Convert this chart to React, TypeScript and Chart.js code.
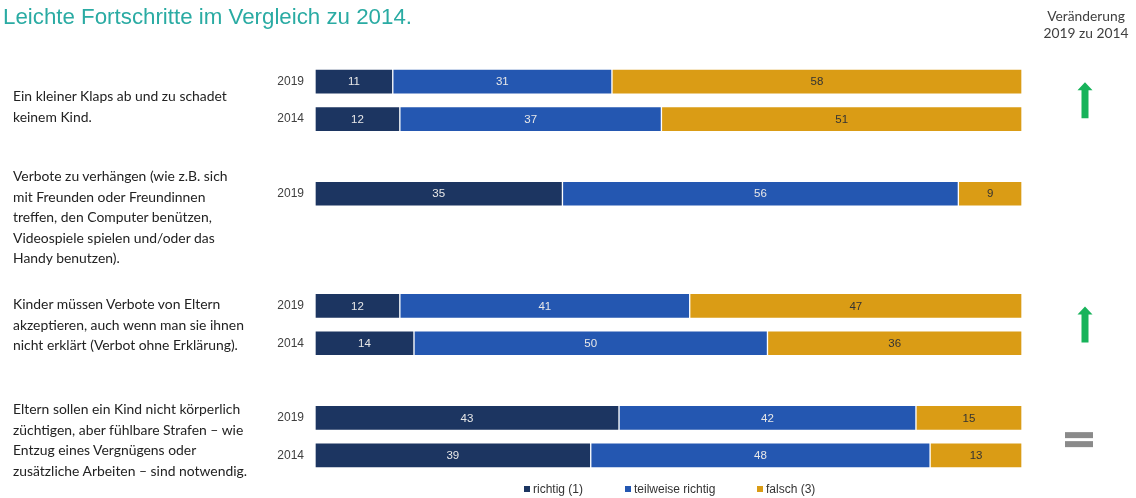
import React, { useEffect, useRef } from "react";
import { Chart, registerables } from "chart.js";

Chart.register(...registerables);

const title = "Leichte Fortschritte im Vergleich zu 2014.";
const changeHeader = ["Veränderung", "2019 zu 2014"];
const categories = ["2019", "2014", "", "2019", "", "", "2019", "2014", "", "2019", "2014"];
const richtig = [11, 12, null, 35, null, null, 12, 14, null, 43, 39];
const teilweise = [31, 37, null, 56, null, null, 41, 50, null, 42, 48];
const falsch = [58, 51, null, 9, null, null, 47, 36, null, 15, 13];
const seriesNames = ["richtig (1)", "teilweise richtig", "falsch (3)"];
const seriesColors = ["#1c3561", "#2457b1", "#da9c15"];
const labelColors = ["#e8e8e8", "#e8e8e8", "#333333"];
const questions = [
  ["Ein kleiner Klaps ab und zu schadet", "keinem Kind."],
  [
    "Verbote zu verhängen (wie z.B. sich",
    "mit Freunden oder Freundinnen",
    "treffen, den Computer benützen,",
    "Videospiele spielen und/oder das",
    "Handy benutzen).",
  ],
  [
    "Kinder müssen Verbote von Eltern",
    "akzeptieren, auch wenn man sie ihnen",
    "nicht erklärt (Verbot ohne Erklärung).",
  ],
  [
    "Eltern sollen ein Kind nicht körperlich",
    "züchtigen, aber fühlbare Strafen – wie",
    "Entzug eines Vergnügens oder",
    "zusätzliche Arbeiten – sind notwendig.",
  ],
];
const questionTops = [86, 166, 294, 399];
const changes = [
  { rows: [0, 1], kind: "up" },
  { rows: [6, 7], kind: "up" },
  { rows: [9, 10], kind: "equal" },
];
const legendX = [524, 625, 757];

const valueLabels = {
  id: "valueLabels",
  afterDatasetsDraw(chart: any) {
    const ctx = chart.ctx;
    ctx.save();
    ctx.font = "11.5px 'Liberation Sans', Arial, sans-serif";
    ctx.textAlign = "center";
    ctx.textBaseline = "middle";
    chart.data.datasets.forEach((ds: any, di: number) => {
      const meta = chart.getDatasetMeta(di);
      meta.data.forEach((el: any, i: number) => {
        const v = ds.data[i];
        if (v === null || v === undefined) return;
        const p = el.getProps(["x", "y", "base"], true);
        ctx.fillStyle = labelColors[di];
        ctx.fillText(String(v), (p.x + p.base) / 2, p.y + 0.5);
      });
    });
    ctx.restore();
  },
};

const changeMarks = {
  id: "changeMarks",
  afterDraw(chart: any) {
    const ctx = chart.ctx;
    const y = chart.scales.y;
    const cx = 1085;
    ctx.save();
    changes.forEach((c) => {
      const y0 = y.getPixelForValue(c.rows[0]);
      const y1 = y.getPixelForValue(c.rows[1]);
      const mid = (y0 + y1) / 2;
      if (c.kind === "up") {
        const top = mid - 18;
        const bot = mid + 18;
        ctx.fillStyle = "#17b35a";
        ctx.beginPath();
        ctx.moveTo(cx, top);
        ctx.lineTo(cx + 7.5, top + 8);
        ctx.lineTo(cx + 3.5, top + 8);
        ctx.lineTo(cx + 3.5, bot);
        ctx.lineTo(cx - 3.5, bot);
        ctx.lineTo(cx - 3.5, top + 8);
        ctx.lineTo(cx - 7.5, top + 8);
        ctx.closePath();
        ctx.fill();
      } else {
        ctx.fillStyle = "#8a8a8a";
        const m = mid + 2.5;
        ctx.fillRect(cx - 20, m - 7, 28, 6);
        ctx.fillRect(cx - 20, m + 2, 28, 6);
      }
    });
    ctx.restore();
  },
};

export default function App() {
  const ref = useRef<HTMLCanvasElement | null>(null);

  useEffect(() => {
    document.body.style.margin = "0";
    if (!ref.current) return;
    const data = [richtig, teilweise, falsch];
    const chart = new Chart(ref.current, {
      type: "bar",
      data: {
        labels: categories,
        datasets: data.map((d, i) => ({
          label: seriesNames[i],
          data: d,
          backgroundColor: seriesColors[i],
          borderColor: "rgba(255,255,255,0.55)",
          borderWidth: 1,
          borderSkipped: false,
          barThickness: 25,
        })),
      },
      options: {
        indexAxis: "y",
        animation: false,
        responsive: false,
        maintainAspectRatio: false,
        layout: { padding: { top: 63, bottom: 24, left: 0, right: 114 } },
        plugins: { legend: { display: false }, tooltip: { enabled: false } },
        scales: {
          x: { stacked: true, min: 0, max: 100, display: false },
          y: {
            stacked: true,
            grid: { display: false, drawTicks: false },
            border: { display: false },
            ticks: {
              padding: 11,
              color: "#404040",
              font: { family: "'Liberation Sans', Arial, sans-serif", size: 12 },
            },
            afterFit: (s: any) => {
              s.width = 315;
            },
          },
        },
      },
      plugins: [valueLabels, changeMarks],
    });
    return () => chart.destroy();
  }, []);

  return (
    <div style={{ position: "relative", width: 1136, height: 498, overflow: "hidden", background: "#fff" }}>
      <canvas ref={ref} width={1136} height={498} style={{ position: "absolute", left: 0, top: 0 }} />
      <div
        style={{
          position: "absolute",
          left: 3,
          top: 4,
          fontFamily: "'Liberation Sans', Arial, sans-serif",
          fontSize: 22.3,
          lineHeight: "26px",
          color: "#2aaba3",
          whiteSpace: "nowrap",
        }}
      >
        {title}
      </div>
      <div
        style={{
          position: "absolute",
          left: 1036,
          width: 100,
          top: 7,
          textAlign: "center",
          fontFamily: "Lato, 'Open Sans', sans-serif",
          fontSize: 13.8,
          lineHeight: "17px",
          color: "#404040",
        }}
      >
        {changeHeader.map((t, i) => (
          <div key={i}>{t}</div>
        ))}
      </div>
      {questions.map((lines, qi) => (
        <div
          key={qi}
          style={{
            position: "absolute",
            left: 13,
            top: questionTops[qi],
            fontFamily: "Lato, 'Open Sans', sans-serif",
            fontSize: 13.9,
            lineHeight: "20.5px",
            color: "#222",
            whiteSpace: "nowrap",
          }}
        >
          {lines.map((t, i) => (
            <div key={i}>{t}</div>
          ))}
        </div>
      ))}
      {seriesNames.map((n, i) => (
        <div
          key={n}
          style={{
            position: "absolute",
            left: legendX[i],
            top: 482,
            height: 14,
            display: "flex",
            alignItems: "center",
            fontFamily: "'Liberation Sans', Arial, sans-serif",
            fontSize: 12,
            color: "#333",
            whiteSpace: "nowrap",
          }}
        >
          <span style={{ display: "inline-block", width: 6, height: 6, background: seriesColors[i], marginRight: 3 }} />
          {n}
        </div>
      ))}
    </div>
  );
}
